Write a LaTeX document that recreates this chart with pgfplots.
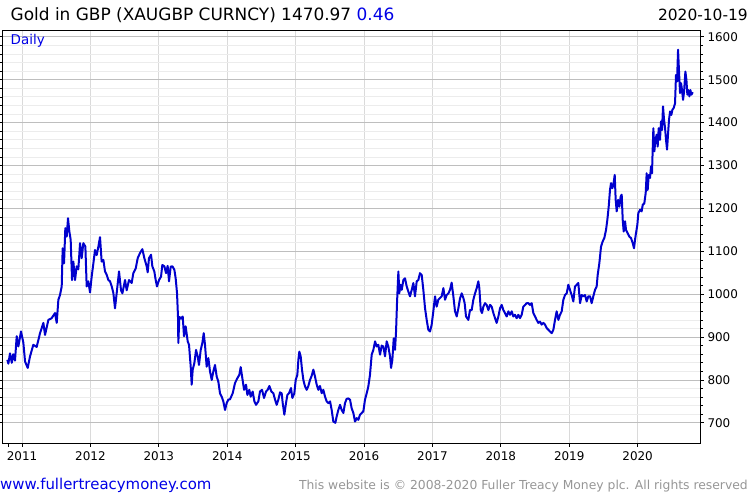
\documentclass[border=0pt]{standalone}
\usepackage{fontspec}
\setmainfont{DejaVu Sans}
\usepackage{pgfplots}
\pgfplotsset{compat=1.18}
\definecolor{lineblue}{RGB}{0,0,205}
\definecolor{txtblue}{RGB}{0,0,230}
\definecolor{footgray}{RGB}{150,150,150}
\definecolor{gmajor}{RGB}{190,190,190}
\definecolor{gminor}{RGB}{236,236,236}
\definecolor{gx}{RGB}{218,218,218}
\pgfplotstableread{
x y
2010.785 847
2010.800 838
2010.824 862
2010.850 840
2010.870 860
2010.897 845
2010.922 902
2010.946 878
2010.985 913
2011.019 887
2011.044 843
2011.083 828
2011.117 855
2011.165 882
2011.214 877
2011.263 909
2011.312 933
2011.336 905
2011.385 940
2011.433 944
2011.482 956
2011.507 933
2011.531 987
2011.555 998
2011.580 1018
2011.594 1107
2011.614 1072
2011.633 1154
2011.653 1134
2011.672 1177
2011.692 1146
2011.711 1127
2011.731 1033
2011.750 1076
2011.775 1033
2011.799 1065
2011.823 1058
2011.848 1119
2011.872 1084
2011.896 1119
2011.926 1111
2011.945 1018
2011.969 1030
2011.994 1004
2012.018 1041
2012.043 1072
2012.067 1103
2012.091 1091
2012.116 1111
2012.140 1133
2012.164 1076
2012.189 1080
2012.213 1053
2012.238 1045
2012.262 1033
2012.286 1030
2012.311 1018
2012.335 1003
2012.359 967
2012.384 1003
2012.418 1053
2012.447 1009
2012.467 1002
2012.506 1033
2012.530 1009
2012.564 1033
2012.603 1026
2012.627 1049
2012.662 1060
2012.691 1084
2012.725 1096
2012.759 1105
2012.788 1084
2012.822 1065
2012.837 1051
2012.856 1084
2012.886 1092
2012.905 1065
2012.934 1053
2012.954 1033
2012.973 1018
2013.003 1033
2013.032 1041
2013.051 1068
2013.081 1065
2013.105 1049
2013.129 1066
2013.149 1030
2013.173 1064
2013.198 1065
2013.227 1057
2013.246 1037
2013.266 1002
2013.280 948
2013.285 886
2013.300 947
2013.324 943
2013.349 948
2013.368 902
2013.392 925
2013.422 890
2013.441 882
2013.466 831
2013.480 789
2013.495 824
2013.519 839
2013.544 870
2013.568 855
2013.587 835
2013.612 870
2013.636 886
2013.656 909
2013.675 882
2013.699 831
2013.724 851
2013.748 820
2013.773 800
2013.797 820
2013.821 835
2013.846 808
2013.870 796
2013.894 769
2013.919 761
2013.943 750
2013.968 730
2013.992 746
2014.016 754
2014.041 755
2014.080 769
2014.114 793
2014.148 804
2014.177 812
2014.197 830
2014.221 804
2014.246 777
2014.275 789
2014.294 765
2014.323 777
2014.343 761
2014.372 773
2014.397 750
2014.421 742
2014.455 750
2014.479 773
2014.508 777
2014.538 758
2014.567 773
2014.591 777
2014.616 786
2014.645 773
2014.674 769
2014.699 754
2014.723 742
2014.747 754
2014.772 771
2014.796 769
2014.811 746
2014.835 719
2014.859 746
2014.879 765
2014.903 769
2014.932 781
2014.952 758
2014.981 769
2015.001 800
2015.025 812
2015.040 847
2015.054 866
2015.074 855
2015.093 824
2015.113 800
2015.137 785
2015.162 777
2015.186 786
2015.210 800
2015.235 810
2015.259 824
2015.283 808
2015.308 789
2015.332 777
2015.356 786
2015.381 769
2015.405 777
2015.430 761
2015.454 750
2015.478 746
2015.503 750
2015.527 730
2015.551 703
2015.581 700
2015.600 715
2015.624 730
2015.649 742
2015.673 730
2015.698 723
2015.722 746
2015.746 756
2015.771 757
2015.795 754
2015.819 734
2015.844 723
2015.868 703
2015.893 711
2015.917 707
2015.941 719
2015.966 723
2015.990 727
2016.014 754
2016.039 769
2016.063 785
2016.087 812
2016.112 859
2016.136 870
2016.161 890
2016.185 878
2016.209 882
2016.234 859
2016.258 880
2016.282 878
2016.307 855
2016.331 890
2016.355 878
2016.380 855
2016.395 828
2016.414 847
2016.434 897
2016.453 870
2016.468 913
2016.482 979
2016.502 1053
2016.516 1002
2016.531 1022
2016.551 1010
2016.575 1033
2016.599 1037
2016.624 1018
2016.648 1006
2016.672 995
2016.697 1010
2016.721 1026
2016.745 995
2016.770 1030
2016.794 1033
2016.818 1049
2016.843 1045
2016.867 1010
2016.892 967
2016.916 940
2016.940 917
2016.965 913
2016.989 929
2017.013 960
2017.038 995
2017.062 971
2017.086 987
2017.111 991
2017.135 995
2017.160 1014
2017.184 987
2017.208 998
2017.233 1002
2017.257 1010
2017.281 1027
2017.306 995
2017.330 960
2017.355 948
2017.379 967
2017.403 990
2017.428 1002
2017.452 991
2017.471 979
2017.491 948
2017.525 940
2017.549 963
2017.574 963
2017.598 987
2017.623 1002
2017.647 1014
2017.671 1030
2017.686 1014
2017.706 963
2017.725 956
2017.745 971
2017.769 979
2017.793 975
2017.818 963
2017.842 975
2017.866 971
2017.891 956
2017.915 944
2017.939 933
2017.964 948
2017.988 967
2018.013 975
2018.037 963
2018.061 956
2018.086 948
2018.110 960
2018.134 952
2018.159 960
2018.183 948
2018.207 952
2018.232 944
2018.256 952
2018.280 944
2018.305 952
2018.329 971
2018.354 975
2018.378 979
2018.402 979
2018.427 975
2018.451 979
2018.475 956
2018.500 948
2018.524 940
2018.548 933
2018.573 936
2018.597 929
2018.622 933
2018.646 929
2018.670 921
2018.695 917
2018.719 913
2018.743 909
2018.768 917
2018.792 940
2018.816 960
2018.841 940
2018.865 952
2018.890 960
2018.914 987
2018.938 998
2018.963 1002
2018.987 1022
2019.011 1010
2019.036 998
2019.060 983
2019.084 1018
2019.109 1022
2019.133 1026
2019.158 979
2019.182 998
2019.206 995
2019.231 998
2019.255 983
2019.279 995
2019.304 995
2019.328 979
2019.352 995
2019.377 1010
2019.401 1018
2019.416 1045
2019.440 1072
2019.465 1111
2019.489 1123
2019.513 1131
2019.538 1150
2019.557 1173
2019.577 1204
2019.596 1243
2019.611 1259
2019.630 1247
2019.645 1255
2019.665 1278
2019.679 1220
2019.694 1193
2019.714 1220
2019.733 1204
2019.752 1228
2019.767 1232
2019.782 1173
2019.796 1146
2019.816 1170
2019.830 1150
2019.855 1142
2019.879 1134
2019.903 1131
2019.928 1119
2019.947 1107
2019.962 1127
2019.976 1142
2019.996 1162
2020.010 1189
2020.035 1197
2020.059 1193
2020.074 1208
2020.098 1212
2020.118 1236
2020.132 1282
2020.147 1243
2020.162 1278
2020.181 1271
2020.196 1298
2020.210 1282
2020.220 1337
2020.230 1387
2020.245 1333
2020.259 1360
2020.279 1372
2020.293 1344
2020.308 1387
2020.327 1360
2020.342 1403
2020.357 1383
2020.371 1438
2020.386 1407
2020.401 1387
2020.415 1360
2020.430 1337
2020.445 1375
2020.459 1407
2020.474 1426
2020.493 1418
2020.508 1430
2020.527 1434
2020.547 1445
2020.561 1511
2020.576 1496
2020.591 1570
2020.605 1519
2020.620 1469
2020.635 1492
2020.649 1476
2020.664 1453
2020.679 1472
2020.698 1519
2020.713 1500
2020.727 1465
2020.742 1476
2020.757 1461
2020.771 1476
2020.786 1465
2020.805 1470.97
}\gold
\begin{document}
\begin{tikzpicture}[x=1bp,y=1bp]
\path[use as bounding box] (0,0) rectangle (750,500);
\begin{axis}[
  at={(2bp,57bp)}, anchor=south west,
  scale only axis, width=698bp, height=413bp,
  xmin=2010.707, xmax=2020.912, ymin=653, ymax=1616,
  axis line style={black, line width=0.8bp},
  tick align=outside,
  xtick pos=lower, ytick pos=both,
  yticklabel pos=right,
  xtick={2011,2012,2013,2014,2015,2016,2017,2018,2019,2020},
  xticklabels={2011,2012,2013,2014,2015,2016,2017,2018,2019,2020},
  extra x ticks={2010.8}, extra x tick labels={},
  extra x tick style={grid=none},
  ytick={700,800,900,1000,1100,1200,1300,1400,1500,1600},
  minor y tick num=4,
  major tick length=4bp, minor tick length=3bp,
  every tick/.style={black, line width=0.7bp},
  xmajorgrids, ymajorgrids, yminorgrids,
  major x grid style={gx, line width=0.8bp},
  major y grid style={gmajor, line width=0.8bp},
  minor y grid style={gminor, line width=0.8bp},
  /pgf/number format/assume math mode=true,
  /pgf/number format/1000 sep={},
  tick label style={font=\fontsize{12}{14}\selectfont, black},
  xticklabel style={yshift=-1.5bp},
  clip=true,
]
\addplot[lineblue, line width=2bp, line join=round] table[x=x,y=y] {\gold};
\end{axis}
\node[anchor=base west, inner sep=0, font=\fontsize{17}{20}\selectfont] at (10.5,479) {Gold in GBP (XAUGBP CURNCY) 1470.97 \textcolor{txtblue}{0.46}};
\node[anchor=base east, inner sep=0, font=\fontsize{15.5}{18}\selectfont] at (748,479) {2020-10-19};
\node[anchor=base west, inner sep=0, font=\fontsize{13.5}{16}\selectfont, text=txtblue] at (10.5,455) {Daily};
\node[anchor=base west, inner sep=0, font=\fontsize{15}{18}\selectfont, text=txtblue] at (0,10) {www.fullertreacymoney.com};
\node[anchor=base east, inner sep=0, font=\fontsize{12.4}{15}\selectfont, text=footgray] at (748,10) {This website is © 2008-2020 Fuller Treacy Money plc. All rights reserved};
\end{tikzpicture}
\end{document}
